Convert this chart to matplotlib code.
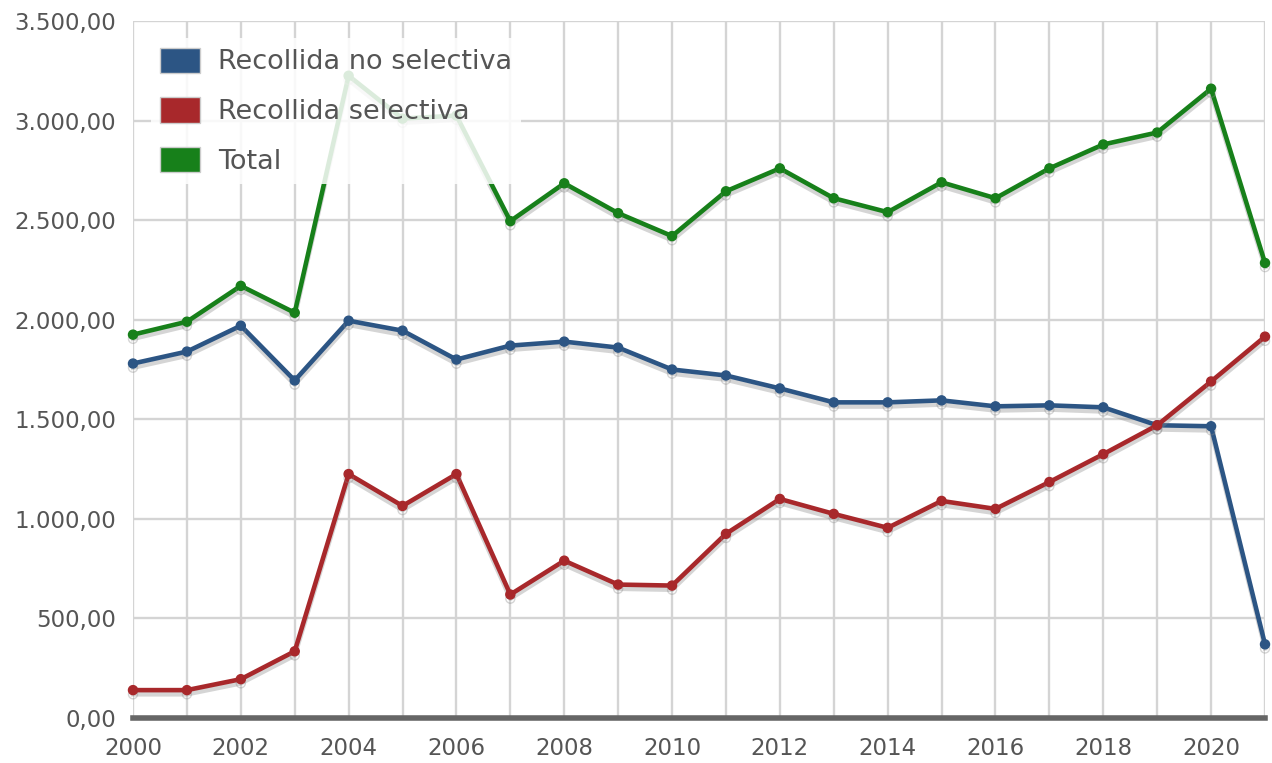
import matplotlib
matplotlib.use("Agg")
import matplotlib.pyplot as plt
import matplotlib.patheffects as pe
from matplotlib.patches import Patch
from matplotlib.ticker import FuncFormatter, MultipleLocator

years = list(range(2000, 2022))
no_selectiva = [1780, 1840, 1970, 1695, 1995, 1945, 1800, 1870, 1890, 1860, 1750,
                1720, 1655, 1585, 1585, 1595, 1565, 1570, 1560, 1470, 1465, 370]
selectiva = [140, 140, 195, 335, 1225, 1065, 1225, 620, 790, 670, 665,
             925, 1100, 1025, 955, 1090, 1050, 1185, 1325, 1470, 1690, 1915]
total = [1925, 1990, 2170, 2035, 3225, 3010, 3025, 2495, 2685, 2535, 2420,
         2645, 2760, 2610, 2540, 2690, 2610, 2760, 2880, 2940, 3160, 2285]

series_names = ["Recollida no selectiva", "Recollida selectiva", "Total"]
colors = ["#2c5584", "#a8282b", "#17801a"]

fig = plt.figure(figsize=(12.72, 7.63), dpi=100)
ax = fig.add_axes([133/1272, 45/763, (1265-133)/1272, (717-20)/763])

shadow = [pe.SimpleLineShadow(offset=(0, -3), shadow_color="#888888", alpha=0.35),
          pe.Normal()]
for vals, col in zip([no_selectiva, selectiva, total], colors):
    ax.plot(years, vals, color=col, lw=3.3, marker="o", markersize=6.5,
            solid_joinstyle="round", path_effects=shadow, zorder=3, clip_on=False)

ax.set_xlim(2000, 2021)
ax.set_ylim(0, 3500)
ax.xaxis.set_major_locator(MultipleLocator(2))
ax.xaxis.set_minor_locator(MultipleLocator(1))
ax.yaxis.set_major_locator(MultipleLocator(500))

def fmt(v, pos):
    s = f"{v:,.2f}"
    return s.replace(",", "X").replace(".", ",").replace("X", ".")
ax.yaxis.set_major_formatter(FuncFormatter(fmt))

ax.grid(True, which="both", color="#d4d4d4", lw=1.7, zorder=0)
for sp in ["top", "right", "left"]:
    ax.spines[sp].set_visible(False)
ax.spines["bottom"].set_color("#666666")
ax.spines["bottom"].set_linewidth(4)
ax.spines["bottom"].set_zorder(4)
ax.tick_params(axis="both", which="both", length=0, labelsize=16.5, labelcolor="#555555")
ax.tick_params(axis="y", pad=12)
ax.tick_params(axis="x", pad=14)

handles = [Patch(facecolor=c, edgecolor="#cccccc", lw=1) for c in colors]
leg = ax.legend(handles, series_names, loc="upper left", bbox_to_anchor=(0.0035, 0.995),
                fontsize=19.5, frameon=True, framealpha=0.85, edgecolor="none",
                handlelength=1.48, handleheight=1.07, handletextpad=0.65,
                labelspacing=0.8, borderpad=0.35, labelcolor="#555555",
                fancybox=False)
leg.set_zorder(5)

fig.savefig("out.png", dpi=100)
